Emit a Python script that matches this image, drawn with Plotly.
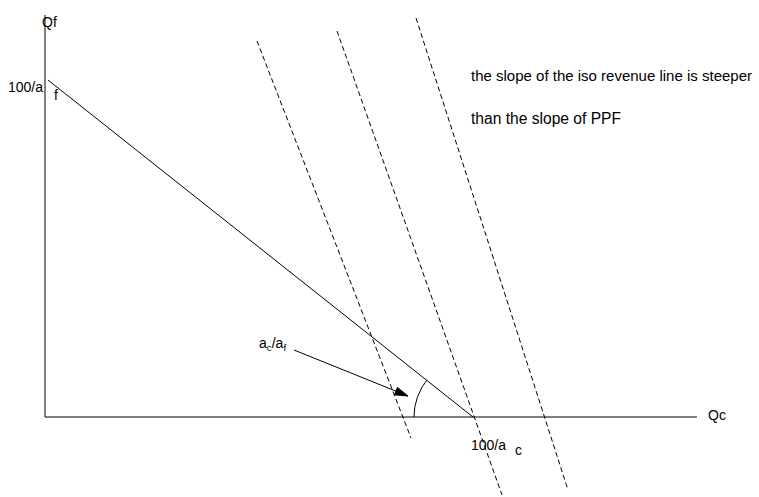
import math
import plotly.graph_objects as go

# Diagram units: origin at the intersection of the axes, 1 unit = 1 px
# Axes extents
qf_axis_top = 402
qc_axis_end = 652

# PPF end points (Qc, Qf)
ppf_qc = [3, 428]
ppf_qf = [337, 0]

# Iso-revenue lines (dashed), each as [start, end] in (Qc, Qf)
iso1_qc = [212, 366]
iso1_qf = [376, -21]
iso2_qc = [292, 457]
iso2_qf = [386, -78]
iso3_qc = [371, 523]
iso3_qf = [399, -73]

# Angle marker radius at the Qc intercept
arc_radius = 59

# Arrow pointing at the angle (start -> end)
arrow_qc = [249, 363]
arrow_qf = [67, 21]

# Text
note_line1 = "the slope of the iso revenue line is steeper"
note_line2 = "than the slope of PPF"

FONT = "Liberation Sans, Arial, sans-serif"
BLACK = "#000000"

fig = go.Figure()

def line(xs, ys, dash=None):
    fig.add_trace(go.Scatter(
        x=xs, y=ys, mode="lines", hoverinfo="skip", showlegend=False,
        line=dict(color=BLACK, width=1, dash=dash)))

# axes
line([0, 0], [0, qf_axis_top])
line([0, qc_axis_end], [0, 0])

# PPF
line(ppf_qc, ppf_qf)

# iso-revenue lines
for xs, ys in [(iso1_qc, iso1_qf), (iso2_qc, iso2_qf), (iso3_qc, iso3_qf)]:
    line(xs, ys, dash="5px,3px")

# angle arc between Qc axis and PPF at the Qc intercept
cx, cy = ppf_qc[1], ppf_qf[1]
ang_ppf = math.atan2(ppf_qf[0] - cy, ppf_qc[0] - cx)
n = 30
arc_x, arc_y = [], []
for i in range(n + 1):
    a = math.pi + (ang_ppf - math.pi) * i / n
    arc_x.append(cx + arc_radius * math.cos(a))
    arc_y.append(cy + arc_radius * math.sin(a))
line(arc_x, arc_y)

# arrow
line(arrow_qc, arrow_qf)
dx = arrow_qc[1] - arrow_qc[0]
dy = arrow_qf[1] - arrow_qf[0]
L = math.hypot(dx, dy)
ux, uy = dx / L, dy / L
head_len, head_half = 13, 4
bx, by = arrow_qc[1] - ux * head_len, arrow_qf[1] - uy * head_len
fig.add_trace(go.Scatter(
    x=[arrow_qc[1], bx - uy * head_half, bx + uy * head_half, arrow_qc[1]],
    y=[arrow_qf[1], by + ux * head_half, by - ux * head_half, arrow_qf[1]],
    mode="lines", fill="toself", fillcolor=BLACK, hoverinfo="skip",
    showlegend=False, line=dict(color=BLACK, width=1)))

def text(t, x, y, xanchor="left", yanchor="middle", size=14):
    fig.add_annotation(x=x, y=y, text=t, showarrow=False, xanchor=xanchor,
                       yanchor=yanchor, font=dict(family=FONT, size=size, color=BLACK),
                       borderpad=0)

text("Qf", -4, 395)
text("100/a", -1, 330, xanchor="right")
text("f", 8, 322)
text("100/a", ppf_qc[1] - 3, -28)
text("c", 469, -33)
text("Qc", 662, 2)
text("a<sub>c</sub>/a<sub>f</sub>", 242, 73, xanchor="right")
text(note_line1, 425, 342, size=15)
text(note_line2, 425, 299, size=15.6)

fig.update_layout(
    width=759, height=497,
    margin=dict(l=0, r=0, t=0, b=0),
    paper_bgcolor="white", plot_bgcolor="white",
    xaxis=dict(range=[-45, 714], visible=False, fixedrange=True),
    yaxis=dict(range=[-80, 417], visible=False, fixedrange=True),
)

fig.write_html("out.html", config={"displayModeBar": False},
               post_script="document.body.style.margin='0';")
